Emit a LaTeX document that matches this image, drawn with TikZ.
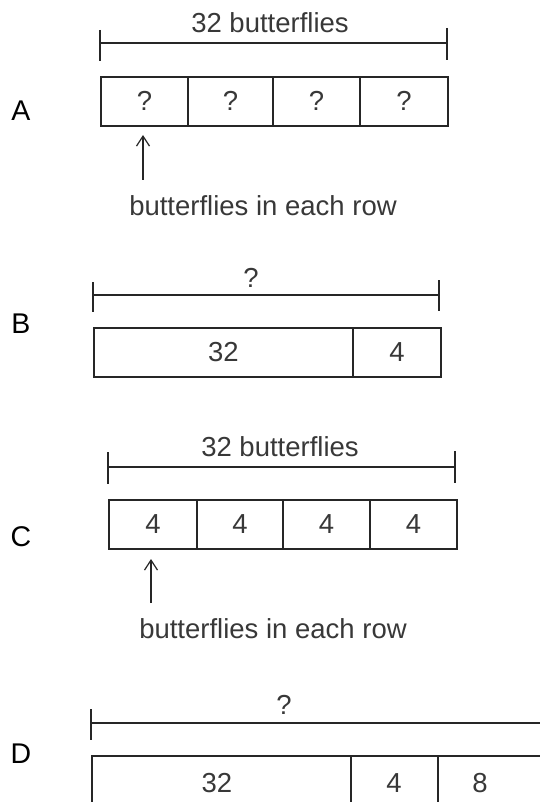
\documentclass[tikz,border=0pt]{standalone}
\usepackage{fontspec}
\setmainfont{Liberation Sans}
\usetikzlibrary{arrows.meta}
\colorlet{ink}{black!85}
\colorlet{tink}{black!78}
\begin{document}
\begin{tikzpicture}[x=1pt,y=-1pt,
  every node/.style={font=\fontsize{27.5}{30}\selectfont, text=tink, inner sep=0pt},
  cell/.style={draw=ink, line width=1.8pt, minimum height=49pt, anchor=north west, inner sep=0pt},
  bar/.style={draw=ink, line width=1.8pt},
  lbl/.style={anchor=base, font=\fontsize{28.5}{30}\selectfont, text=black},
  txt/.style={anchor=base},
  ptr/.style={draw=ink, line width=1.2pt, -{Straight Barb[length=10pt,width=13pt,line width=1.2pt]}}]
\useasboundingbox (0,0) rectangle (539,802);

% ---------- A ----------
\node[lbl] (lA) at (21,121) {A};
\node[txt] (tA) at (270,33) {32 butterflies};
\coordinate (aL) at (100,43); \coordinate (aR) at (447,43);
\coordinate (aLt) at (100,30); \coordinate (aLb) at (100,61);
\coordinate (aRt) at (447,28); \coordinate (aRb) at (447,60);
\draw[bar] (aL) -- (aR);
\draw[bar] (aLt) -- (aLb);
\draw[bar] (aRt) -- (aRb);
\node[cell, minimum width=87pt] (a1) at (100,76) {?};
\node[cell, minimum width=85pt] (a2) at (187,76) {?};
\node[cell, minimum width=87pt] (a3) at (272,76) {?};
\node[cell, minimum width=88pt] (a4) at (359,76) {?};
\coordinate (aArr) at (143,180); \coordinate (aTip) at (143,135);
\draw[ptr] (aArr) -- (aTip);
\node[txt] (eA) at (263,215) {butterflies in each row};

% ---------- B ----------
\node[lbl] (lB) at (21,333) {B};
\node[txt] (tB) at (251,287) {?};
\coordinate (bL) at (93,295); \coordinate (bR) at (439,295);
\coordinate (bLt) at (93,282); \coordinate (bLb) at (93,312);
\coordinate (bRt) at (439,280); \coordinate (bRb) at (439,311);
\draw[bar] (bL) -- (bR);
\draw[bar] (bLt) -- (bLb);
\draw[bar] (bRt) -- (bRb);
\node[cell, minimum width=259pt] (b1) at (93,327) {32};
\node[cell, minimum width=88pt] (b2) at (352,327) {4};

% ---------- C ----------
\node[lbl] (lC) at (21,546) {C};
\node[txt] (tC) at (280,456) {32 butterflies};
\coordinate (cL) at (108,467); \coordinate (cR) at (455,467);
\coordinate (cLt) at (108,452); \coordinate (cLb) at (108,484);
\coordinate (cRt) at (455,451); \coordinate (cRb) at (455,483);
\draw[bar] (cL) -- (cR);
\draw[bar] (cLt) -- (cLb);
\draw[bar] (cRt) -- (cRb);
\node[cell, minimum width=88pt] (c1) at (108,499) {4};
\node[cell, minimum width=86pt] (c2) at (196,499) {4};
\node[cell, minimum width=87pt] (c3) at (282,499) {4};
\node[cell, minimum width=87pt] (c4) at (369,499) {4};
\coordinate (cArr) at (151,603); \coordinate (cTip) at (151,559);
\draw[ptr] (cArr) -- (cTip);
\node[txt] (eC) at (273,638) {butterflies in each row};

% ---------- D ----------
\node[lbl] (lD) at (21,763) {D};
\node[txt] (tD) at (284,714) {?};
\coordinate (dL) at (91,723); \coordinate (dR) at (560,723);
\coordinate (dLt) at (91,709); \coordinate (dLb) at (91,740);
\draw[bar] (dL) -- (dR);
\draw[bar] (dLt) -- (dLb);
\node[cell, minimum width=259pt, minimum height=70pt] (d1) at (91,755) {};
\node[cell, minimum width=87pt, minimum height=70pt] (d2) at (350,755) {};
\node[cell, minimum width=123pt, minimum height=70pt] (d3) at (437,755) {};
\node[txt] (d1t) at (217,792) {32};
\node[txt] (d2t) at (394,792) {4};
\node[txt] (d3t) at (480,792) {8};
\end{tikzpicture}
\end{document}
